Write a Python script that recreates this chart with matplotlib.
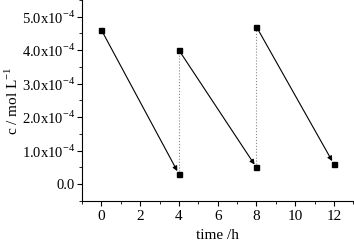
import numpy as np
import matplotlib
matplotlib.use("Agg")
import matplotlib.pyplot as plt
from matplotlib.ticker import MultipleLocator, FuncFormatter

plt.rcParams['font.family'] = 'Liberation Serif'
plt.rcParams['mathtext.fontset'] = 'custom'
plt.rcParams['mathtext.rm'] = 'Liberation Serif'

# decay segments (start -> end) and refill jumps
t_start = [0, 4, 8]
c_start = [4.6e-4, 4.0e-4, 4.7e-4]
t_end = [4, 8, 12]
c_end = [0.3e-4, 0.5e-4, 0.6e-4]

fig = plt.figure(figsize=(3.54, 2.46), dpi=100)
ax = fig.add_axes([0.232, 0.183, 0.766, 0.817])

for ts, cs, te, ce in zip(t_start, c_start, t_end, c_end):
    ax.annotate('', xy=(te, ce), xytext=(ts, cs),
                arrowprops=dict(arrowstyle='-|>', color='black', lw=0.8,
                                mutation_scale=7, shrinkA=0, shrinkB=2.5))

# refill: dotted vertical lines
for te, ce, ts, cs in zip(t_end[:-1], c_end[:-1], t_start[1:], c_start[1:]):
    ax.plot([te, ts], [ce, cs], ls=':', color='#888888', lw=0.8)

ax.plot(t_start, c_start, 's', color='black', ms=3.6, ls='none')
ax.plot(t_end, c_end, 's', color='black', ms=3.6, ls='none')

ax.set_xlim(-1, 13)
ax.set_ylim(-0.5e-4, 5.5e-4)
ax.xaxis.set_major_locator(MultipleLocator(2))
ax.xaxis.set_minor_locator(MultipleLocator(1))
ax.yaxis.set_major_locator(MultipleLocator(1e-4))
ax.yaxis.set_minor_locator(MultipleLocator(0.5e-4))

def yfmt(v, pos):
    if abs(v) < 1e-9:
        return '0.0'
    return '%.1fx10$^{-4}$' % (v / 1e-4)

ax.yaxis.set_major_formatter(FuncFormatter(yfmt))

for s in ['top', 'right']:
    ax.spines[s].set_visible(False)
ax.tick_params(which='both', direction='out')
ax.tick_params(axis='y', pad=1.5, labelsize=10.5)
ax.tick_params(axis='x', pad=3, labelsize=11)
ax.tick_params(which='major', length=3.5)
ax.tick_params(which='minor', length=2)

ax.set_xlabel('time /h', fontsize=11, labelpad=4)
ax.set_ylabel('c / mol L$^{-1}$', fontsize=11)
ax.yaxis.set_label_coords(-0.225, 0.5)

fig.savefig('out.png', dpi=100)
